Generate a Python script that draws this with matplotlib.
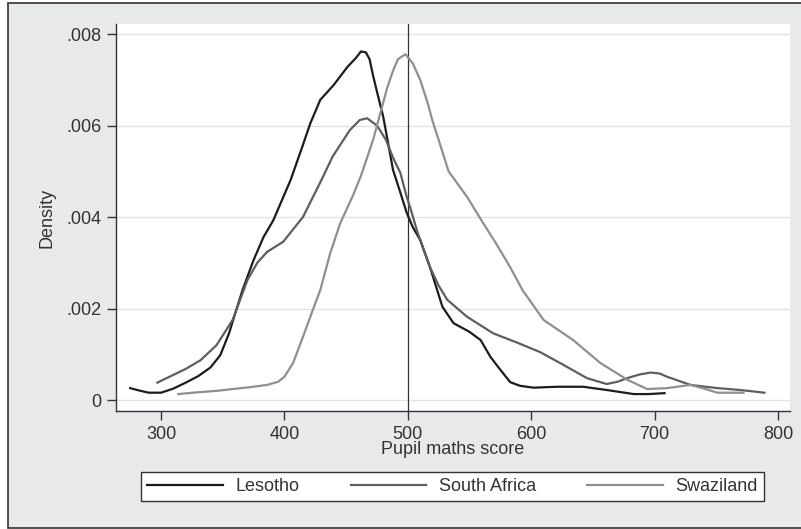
import matplotlib
matplotlib.use("Agg")
import matplotlib.pyplot as plt
from matplotlib.patches import Rectangle
from matplotlib.lines import Line2D

# density curves (score, density)
lesotho_x = [275, 282, 290, 300, 310, 320, 330, 340, 348, 355, 361, 366, 375, 383, 391,
             405, 414, 421, 429, 440, 451, 458, 462, 466, 469, 472, 476, 480, 484, 488,
             494, 499, 504, 510, 518, 528, 537, 550, 559, 567, 575, 583, 591, 602, 621,
             642, 661, 683, 695, 708]
lesotho_y = [.00026, .00021, .00016, .00016, .00025, .00038, .00052, .00071, .00098, .00145,
             .00197, .0024, .00306, .00356, .00393, .00481, .0055, .00605, .00656, .00689,
             .00728, .00748, .00762, .0076, .00745, .00707, .00663, .0062, .00562, .00503,
             .00453, .0041, .00378, .0035, .0029, .00204, .00168, .00149, .00131, .00094,
             .00066, .00039, .00031, .00027, .00029, .00029, .00022, .00013, .00013, .00015]

safrica_x = [297, 310, 320, 332, 345, 358, 370, 378, 386, 399, 415, 430, 439, 453, 461,
             467, 475, 482, 488, 494, 499, 502, 508, 518, 525, 532, 548, 569, 589, 607,
             626, 645, 661, 670, 678, 688, 697, 704, 710, 729, 751, 769, 789]
safrica_y = [.00038, .00055, .00068, .00087, .0012, .00175, .00262, .003, .00324, .00346,
             .004, .00481, .00532, .0059, .00612, .00616, .006, .0057, .0053, .00496,
             .00445, .0042, .00365, .0029, .0025, .00219, .00182, .00146, .00125, .00105,
             .00077, .00048, .00035, .0004, .00048, .00056, .0006, .00058, .00051, .00033,
             .00026, .00022, .00016]

swazi_x = [314, 330, 345, 358, 372, 386, 395, 400, 407, 415, 423, 429, 437, 445, 456,
           462, 472, 478, 483, 488, 492, 498, 504, 510, 516, 520, 526, 533, 548, 561,
           572, 583, 593, 610, 634, 656, 678, 694, 710, 729, 740, 751, 772]
swazi_y = [.00013, .00017, .0002, .00024, .00028, .00033, .0004, .00051, .00081, .00138,
           .00197, .0024, .0032, .00385, .0045, .0049, .0057, .0063, .0068, .0072,
           .00745, .00756, .00736, .007, .0065, .0061, .0056, .005, .00444, .00387,
           .0034, .0029, .0024, .00175, .00131, .00081, .00044, .00024, .00026, .00033,
           .00025, .00016, .00016]

countries = ["Lesotho", "South Africa", "Swaziland"]
colors = ["#1c1c1c", "#5e5e5e", "#8f8f8f"]

xticks = [300, 400, 500, 600, 700, 800]
yticks = [0, .002, .004, .006, .008]
ytick_labels = ["0", ".002", ".004", ".006", ".008"]

plt.rcParams["font.family"] = ["Liberation Sans", "DejaVu Sans"]

W, H = 801, 529
fig = plt.figure(figsize=(W / 100, H / 100), dpi=100)
fig.patch.set_facecolor("white")

# grey graph region with a dark frame
fig.patches.append(Rectangle((8 / W, 1 - 528 / H), 800 / W, 525 / H, transform=fig.transFigure,
                             facecolor="#e8e9eb", edgecolor="#333333", linewidth=1.2, zorder=-5))

ax = fig.add_axes([116 / W, 1 - 411 / H, (790 - 116) / W, (411 - 24) / H])
ax.set_zorder(1)
ax.set_facecolor("white")

series = [(lesotho_x, lesotho_y), (safrica_x, safrica_y), (swazi_x, swazi_y)]
for (xs, ys), c, name in zip(series, colors, countries):
    ax.plot(xs, ys, color=c, lw=1.6, label=name, zorder=3)

ax.axvline(500, color="#333333", lw=0.9, zorder=2)

ax.set_xlim(263.5, 809.7)
ax.set_ylim(-0.00024, 0.00822)
ax.set_xticks(xticks)
ax.set_yticks(yticks)
ax.set_yticklabels(ytick_labels)
ax.yaxis.grid(True, color="#e3e3e3", lw=1)
ax.set_axisbelow(True)

for s in ["top", "right"]:
    ax.spines[s].set_visible(False)
for s in ["left", "bottom"]:
    ax.spines[s].set_color("#333333")
    ax.spines[s].set_linewidth(1)

ax.tick_params(direction="out", length=6.5, width=1, color="#333333", pad=4,
               labelsize=13, labelcolor="#333333")

ax.set_xlabel("Pupil maths score", fontsize=13, color="#333333", labelpad=-1)
ax.set_ylabel("Density", fontsize=13, color="#333333", labelpad=8)

handles = [Line2D([], [], color=c, lw=1.6) for c in colors]
leg = fig.legend(handles, countries, loc="center",
                 bbox_to_anchor=(452.5 / W, 1 - 486.5 / H),
                 ncol=3, fontsize=13, frameon=True, fancybox=False,
                 borderaxespad=0, borderpad=0.35, handlelength=4.2, handletextpad=0.7,
                 columnspacing=2.8, labelcolor="#333333")
leg.get_frame().set_edgecolor("#333333")
leg.get_frame().set_linewidth(1)
leg.get_frame().set_facecolor("white")
leg.get_frame().set_alpha(1)

fig.savefig("out.png", dpi=100)
